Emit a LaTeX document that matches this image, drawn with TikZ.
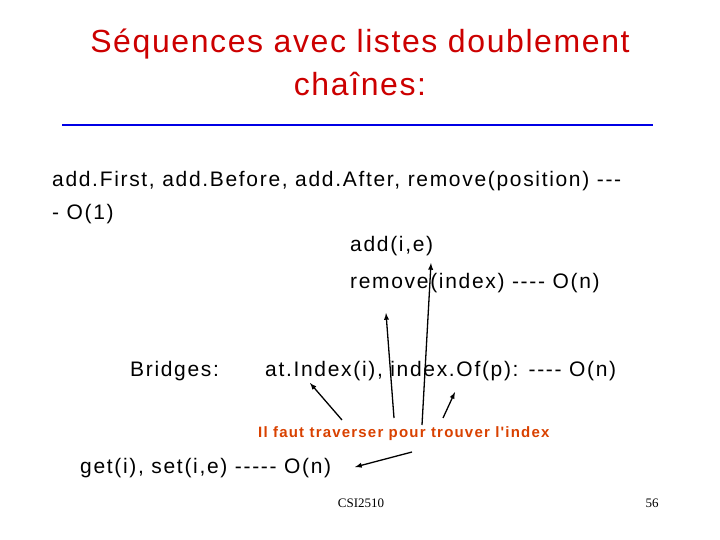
\documentclass[tikz,border=0pt]{standalone}
\usepackage{fontspec}
\setmainfont{Liberation Sans}[Ligatures=TeXOff]
\newfontfamily\wide{Liberation Sans}[Ligatures=TeXOff,LetterSpace=8]
\newfontfamily\widet{Liberation Sans}[LetterSpace=5]
\newfontfamily\serifa{Liberation Serif}
\begin{document}
\begin{tikzpicture}[x=1pt,y=-1pt,
 txt/.style={anchor=west,inner sep=0pt,font=\wide\fontsize{21}{25}\selectfont},
 arr/.style={-latex,line width=1.3pt}]
\useasboundingbox (0,0) rectangle (720,540);
\node[font=\widet\fontsize{32}{43}\selectfont,text=red!80!black,align=center] (title) at (360,62) {Séquences avec listes doublement\\chaînes:};
\draw[line width=2.5pt,blue!90!black] (62,125) -- (653,125);
\node[txt] (l1) at (52,181) {add.First, add.Before, add.After, remove(position) ---};
\node[txt] (l2) at (52,214) {- O(1)};
\node[txt] (l3) at (350,246) {add(i,e)};
\node[txt] (l4) at (350,283) {remove(index) ---- O(n)};
\node[txt] (br) at (130,371) {Bridges:};
\node[txt] (l5) at (265,371) {at.Index(i), index.Of(p): ---- O(n)};
\node[anchor=west,inner sep=0pt,font=\wide\bfseries\fontsize{15}{17}\selectfont,text=orange!60!red!85!black] (il) at (258,434) {Il faut traverser pour trouver l'index};
\node[txt] (l6) at (80,468) {get(i), set(i,e) ----- O(n)};
\node[font=\serifa\fontsize{13}{15}\selectfont] (csi) at (361,503) {CSI2510};
\node[font=\serifa\fontsize{13}{15}\selectfont] (pg) at (652,503) {56};
\coordinate (s1) at (342,420); \coordinate (e1) at (310,383);
\coordinate (s2) at (394,418); \coordinate (e2) at (386,313);
\coordinate (s3) at (422,425); \coordinate (e3) at (431,263);
\coordinate (s4) at (443,418); \coordinate (e4) at (455,392);
\coordinate (s5) at (412,452); \coordinate (e5) at (355,467);
\foreach \i in {1,...,5} \draw[arr] (s\i) -- (e\i);
\end{tikzpicture}
\end{document}
